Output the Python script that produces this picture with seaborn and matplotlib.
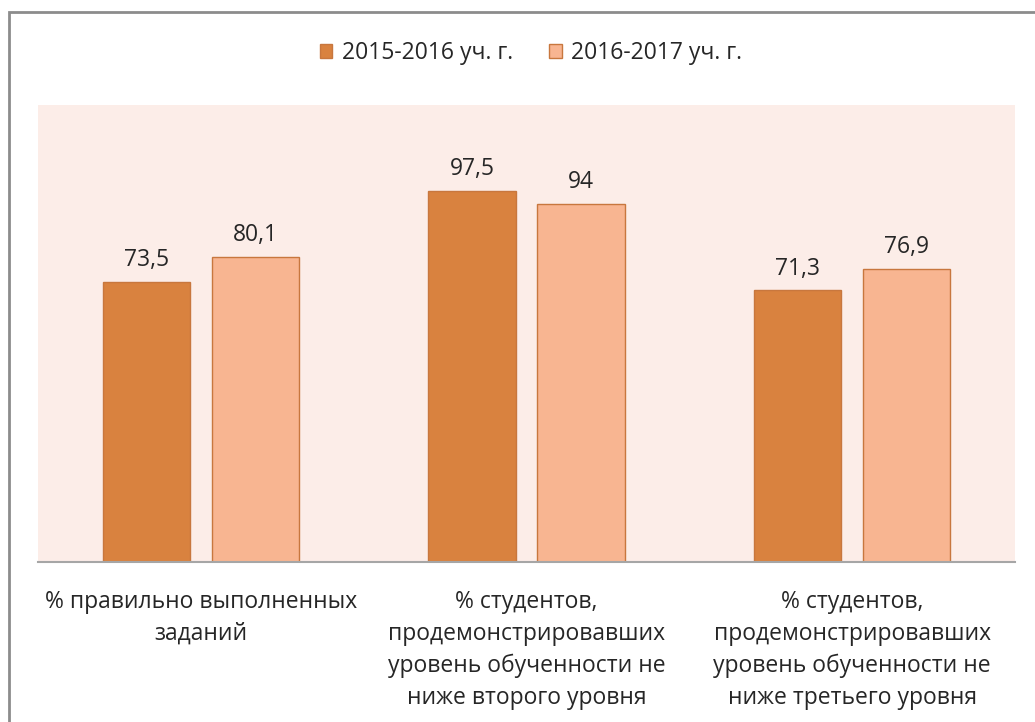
import matplotlib.pyplot as plt
import seaborn as sns
import pandas as pd
from matplotlib.patches import Rectangle

# Данные
categories = ["% правильно выполненных\nзаданий",
              "% студентов,\nпродемонстрировавших\nуровень обученности не\nниже второго уровня",
              "% студентов,\nпродемонстрировавших\nуровень обученности не\nниже третьего уровня"]
years = ["2015-2016 уч. г.", "2016-2017 уч. г."]
values_2015 = [73.5, 97.5, 71.3]
values_2016 = [80.1, 94, 76.9]
value_labels_2015 = ["73,5", "97,5", "71,3"]
value_labels_2016 = ["80,1", "94", "76,9"]

df = pd.DataFrame({
    "category": categories * 2,
    "year": [years[0]] * 3 + [years[1]] * 3,
    "value": values_2015 + values_2016,
})

sns.set_style("white")
plt.rcParams["font.family"] = ["Open Sans", "DejaVu Sans"]
fs = 16.5

fig = plt.figure(figsize=(10.35, 7.22), dpi=100)
ax = fig.add_axes([38 / 1035, 1 - 562 / 722, 977 / 1035, 457 / 722])

palette = {years[0]: "#D9823F", years[1]: "#F8B591"}
sns.barplot(data=df, x="category", y="value", hue="year", order=categories,
            hue_order=years, palette=palette, width=0.67, gap=0.2,
            edgecolor="#C8773E", linewidth=1, saturation=1, errorbar=None, ax=ax)

# Подписи значений
for container, labels in zip(ax.containers, [value_labels_2015, value_labels_2016]):
    ax.bar_label(container, labels=labels, padding=7, fontsize=fs, color="#262626")

ax.set_facecolor("#FCEDE8")
ax.set_ylim(0, 120)
ax.set_xlim(-0.5, 2.5)
ax.set_yticks([])
ax.set_xlabel("")
ax.set_ylabel("")
ax.tick_params(axis="x", length=0, pad=20, labelsize=fs, labelcolor="#262626")
for lbl in ax.get_xticklabels():
    lbl.set_linespacing(1.44)
for side in ["top", "right", "left"]:
    ax.spines[side].set_visible(False)
ax.spines["bottom"].set_color("#A6A6A6")
ax.spines["bottom"].set_linewidth(1.5)

# Легенда
handles, labels = ax.get_legend_handles_labels()
ax.legend(handles, labels, loc="center", bbox_to_anchor=(531 / 1035, 1 - 53 / 722),
          bbox_transform=fig.transFigure, ncol=2, frameon=False, fontsize=fs,
          handlelength=0.55, handleheight=0.55, handletextpad=0.4, columnspacing=1.6,
          labelcolor="#262626")

# Рамка
fig.patches.append(Rectangle((9 / 1035, -0.1), 1.2, 1 - 12 / 722 + 0.1,
                             transform=fig.transFigure, fill=False,
                             edgecolor="#8C8C8C", linewidth=2))

plt.savefig("out.png", dpi=100)
plt.close()
